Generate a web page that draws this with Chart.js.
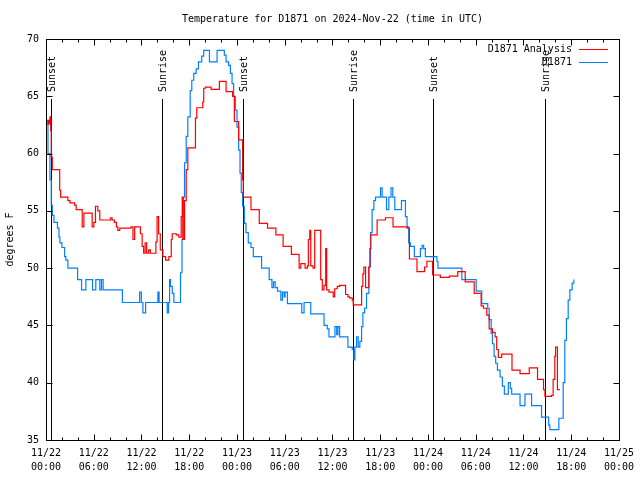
<!DOCTYPE html>
<html>
<head>
<meta charset="utf-8">
<script src="https://cdn.jsdelivr.net/npm/chart.js@4.4.1/dist/chart.umd.min.js"></script>
<style>
  html, body { margin: 0; padding: 0; background: #fff; }
</style>
</head>
<body>
<canvas id="chart" width="640" height="480"></canvas>
<script>
// hours since 11/22 00:00 UTC, temperature in F
const analysisHours = [0.06,0.25,0.38,0.50,0.59,0.66,0.79,1.72,1.84,2.75,
  3.01,3.59,3.79,4.55,4.76,5.80,6.01,6.22,6.51,6.76,
  8.10,8.30,8.60,8.85,9.02,9.27,10.68,10.93,11.14,11.86,
  12.08,12.27,12.46,12.65,12.90,13.11,13.81,13.96,14.15,14.36,
  14.69,15.03,15.44,15.74,15.86,16.37,16.69,16.99,17.12,17.19,
  17.41,17.62,17.82,18.78,18.95,19.70,19.82,20.04,20.75,21.79,
  22.63,23.45,23.67,24.21,24.71,24.79,25.76,26.80,27.84,28.89,
  29.80,30.84,31.81,32.02,32.56,32.85,32.97,33.15,33.27,33.56,
  33.77,34.52,34.72,34.94,35.15,35.27,35.56,36.10,36.28,36.60,
  36.90,37.65,37.94,38.15,38.48,38.61,39.66,39.82,39.95,40.16,
  40.36,40.57,40.70,40.82,41.61,42.66,43.61,45.37,45.67,46.62,
  47.58,47.87,48.58,49.55,50.68,51.75,52.68,53.81,54.68,54.97,
  55.39,55.69,56.10,56.44,56.64,56.85,57.26,58.56,59.57,60.73,
  61.77,62.52,62.70,63.52,63.73,63.94,64.04,64.27,64.57];
const analysisTemps = [62.6,62.9,62.6,63.2,62.0,59.7,58.6,56.8,56.2,55.9,
  55.7,55.5,55.1,53.6,54.8,53.6,54.0,55.4,55.0,54.2,
  54.4,54.2,54.0,53.6,53.3,53.5,53.6,52.5,53.6,53.0,
  51.9,51.3,52.2,51.3,51.6,51.3,52.3,54.5,53.0,51.6,
  51.0,50.7,51.0,52.5,53.0,52.9,52.7,54.5,56.2,52.5,
  55.9,58.6,60.5,63.1,64.0,64.5,65.7,65.8,65.6,66.3,
  65.4,65.0,62.8,61.2,57.7,56.2,55.1,53.9,53.5,52.9,
  51.9,51.2,50.0,50.4,50.0,50.2,52.5,53.3,50.2,50.0,
  53.3,49.0,48.1,48.5,51.7,48.1,47.9,47.5,48.2,48.4,
  48.5,47.7,47.5,47.4,47.2,46.8,48.4,49.5,50.1,48.3,
  48.3,50.1,51.7,52.9,54.2,54.4,53.6,53.5,50.8,49.7,
  50.1,50.6,49.4,49.2,49.3,49.7,48.8,47.8,46.7,46.5,
  45.9,44.7,44.4,44.0,42.9,42.2,42.5,41.1,40.8,41.3,
  40.3,39.4,38.8,38.9,40.3,42.3,43.1,39.4,39.4];

const obsHours = [0.06,0.25,0.50,0.66,0.79,1.00,1.44,1.63,1.75,2.00,
  2.34,2.50,2.75,3.97,4.47,5.01,5.85,6.26,6.76,6.97,
  7.18,9.60,11.77,11.98,12.18,12.52,14.06,14.21,15.24,15.40,
  15.53,15.65,15.87,16.07,16.90,17.09,17.28,17.41,17.62,17.82,
  18.12,18.32,18.57,18.87,19.16,19.57,19.82,20.54,21.50,22.41,
  22.63,22.95,23.17,23.38,23.58,23.79,24.00,24.21,24.38,24.54,
  24.71,24.92,25.13,25.42,25.76,26.05,27.09,28.05,28.39,28.59,
  28.80,29.09,29.51,29.71,29.93,30.05,30.34,32.14,32.43,33.27,
  34.94,35.35,35.56,36.31,36.53,36.69,36.90,37.94,38.48,38.69,
  38.82,39.03,39.23,39.44,39.66,39.82,40.03,40.28,40.57,40.78,
  40.98,41.20,41.41,42.04,42.24,42.79,43.08,43.36,43.58,43.83,
  44.67,45.17,45.37,45.58,45.79,46.29,47.05,47.25,47.46,47.67,
  49.12,49.25,52.26,54.06,54.76,55.51,55.69,55.94,56.10,56.31,
  56.51,56.73,57.06,57.35,57.60,58.10,58.35,58.52,59.57,60.19,
  61.02,62.27,63.17,63.32,64.45,64.99,65.20,65.40,65.62,65.83,
  66.12,66.33];
const obsTemps = [62.9,60.0,57.7,55.5,54.6,54.0,53.5,52.7,52.2,51.8,
  51.0,50.7,50.0,49.0,48.1,49.0,48.1,49.0,48.1,49.0,
  48.1,47.0,47.9,47.0,46.1,47.0,47.9,47.0,46.1,47.0,
  49.0,48.4,47.8,47.0,49.6,52.5,56.2,59.2,61.5,63.2,
  65.5,66.4,67.0,67.4,68.0,68.5,69.0,68.0,69.0,68.6,
  68.0,67.7,67.0,66.1,65.0,63.8,62.3,60.3,58.3,56.6,
  55.4,53.9,53.1,52.2,51.8,51.0,50.0,49.0,48.3,48.8,
  48.3,48.0,47.2,47.9,47.5,47.9,46.9,46.1,47.0,46.0,
  45.0,44.7,44.0,44.9,44.2,44.9,44.0,43.1,42.9,42.0,
  43.1,44.0,43.1,43.6,44.9,46.1,46.5,47.8,50.1,53.1,
  55.1,55.9,56.2,57.0,56.2,55.1,56.2,57.0,56.2,55.1,
  55.9,54.5,53.6,52.2,51.9,51.0,51.7,52.0,51.7,51.0,
  50.6,50.0,49.0,48.0,46.9,46.5,45.5,44.3,43.4,42.3,
  41.7,41.1,40.5,39.7,39.0,40.0,39.5,39.0,38.0,39.0,
  38.0,37.0,36.3,35.9,36.9,40.0,43.7,45.6,47.2,48.1,
  48.7,49.0];

const sunHours = [0.69, 14.56, 24.71, 38.61, 48.62, 62.65];
const sunLabels = ['Sunset', 'Sunrise', 'Sunset', 'Sunrise', 'Sunset', 'Sunrise'];

const FONT = '"DejaVu Sans Mono", monospace';

function pts(hs, ts) {
  return hs.map((h, i) => ({ x: h, y: ts[i] }));
}

// gnuplot-ish frame: border, inward ticks, sun lines, legend
const gnuFrame = {
  id: 'gnuFrame',
  beforeDatasetsDraw(chart) {
    const { ctx, chartArea: a, scales: { x } } = chart;
    ctx.save();
    ctx.strokeStyle = '#000';
    ctx.fillStyle = '#000';
    ctx.lineWidth = 1;
    ctx.font = '10px ' + FONT;
    sunHours.forEach((h, i) => {
      const px = Math.round(x.getPixelForValue(h)) + 0.5;
      ctx.beginPath();
      ctx.moveTo(px, a.top + 60);
      ctx.lineTo(px, a.bottom);
      ctx.stroke();
      ctx.save();
      ctx.translate(px + 1, a.top + 53);
      ctx.rotate(-Math.PI / 2);
      ctx.textAlign = 'left';
      ctx.textBaseline = 'middle';
      ctx.fillText(sunLabels[i], 0, 0);
      ctx.restore();
    });
    ctx.restore();
  },
  afterDraw(chart) {
    const { ctx, chartArea: a, scales: { x, y } } = chart;
    ctx.save();
    ctx.strokeStyle = '#000';
    ctx.lineWidth = 1;
    const L = Math.round(a.left) + 0.5, R = Math.round(a.right) + 0.5;
    const T = Math.round(a.top) + 0.5, B = Math.round(a.bottom) + 0.5;
    ctx.strokeRect(L, T, R - L, B - T);
    ctx.beginPath();
    for (let h = 0; h <= 72; h += 2) {
      const px = Math.round(x.getPixelForValue(h)) + 0.5;
      const len = h % 6 === 0 ? 6 : 3;
      ctx.moveTo(px, B); ctx.lineTo(px, B - len);
      ctx.moveTo(px, T); ctx.lineTo(px, T + len);
    }
    for (let v = 35; v <= 70; v += 5) {
      const py = Math.round(y.getPixelForValue(v)) + 0.5;
      ctx.moveTo(L, py); ctx.lineTo(L + 6, py);
      ctx.moveTo(R, py); ctx.lineTo(R - 6, py);
    }
    ctx.stroke();

    // legend
    ctx.font = '10px ' + FONT;
    ctx.textAlign = 'right';
    ctx.textBaseline = 'middle';
    chart.data.datasets.forEach((ds, i) => {
      const ly = Math.round(a.top + 10 + i * 13) + 0.5;
      ctx.fillStyle = '#000';
      ctx.fillText(ds.label, a.right - 47, ly);
      ctx.strokeStyle = ds.borderColor;
      ctx.beginPath();
      ctx.moveTo(a.right - 40, ly);
      ctx.lineTo(a.right - 11, ly);
      ctx.stroke();
    });
    ctx.restore();
  }
};

new Chart(document.getElementById('chart'), {
  type: 'line',
  data: {
    datasets: [{
      label: 'D1871 Analysis',
      data: pts(analysisHours, analysisTemps),
      borderColor: '#ff0000',
      borderWidth: 1.2,
      pointRadius: 0,
      stepped: 'before',
      fill: false
    }, {
      label: 'D1871',
      data: pts(obsHours, obsTemps),
      borderColor: '#0080ff',
      borderWidth: 1.2,
      pointRadius: 0,
      stepped: 'before',
      fill: false
    }]
  },
  options: {
    responsive: false,
    animation: false,
    layout: { padding: { right: 17 } },
    plugins: {
      legend: { display: false },
      tooltip: { enabled: false },
      title: {
        display: true,
        fullSize: false,
        text: 'Temperature for D1871 on 2024-Nov-22 (time in UTC)',
        color: '#000',
        font: { family: FONT, size: 10, weight: 'normal', lineHeight: 1.2 },
        padding: { top: 13, bottom: 14 }
      }
    },
    scales: {
      x: {
        type: 'linear',
        min: 0,
        max: 72,
        grid: { display: false, drawTicks: false },
        border: { display: false },
        ticks: {
          stepSize: 6,
          autoSkip: false,
          maxRotation: 0,
          padding: 6,
          color: '#000',
          font: { family: FONT, size: 10, lineHeight: 1.4 },
          callback: (v) => {
            const d = 22 + Math.floor(v / 24);
            const hh = String(v % 24).padStart(2, '0');
            return ['11/' + d, hh + ':00'];
          }
        },
        afterFit: (s) => { s.height = 40; }
      },
      y: {
        min: 35,
        max: 70,
        grid: { display: false, drawTicks: false },
        border: { display: false },
        ticks: {
          stepSize: 5,
          padding: 7,
          color: '#000',
          font: { family: FONT, size: 10 }
        },
        title: {
          display: true,
          text: 'degrees F',
          color: '#000',
          font: { family: FONT, size: 10 },
          padding: { top: 4, bottom: 0 }
        },
        afterFit: (s) => { s.width = 46; }
      }
    }
  },
  plugins: [gnuFrame]
});
</script>
</body>
</html>
